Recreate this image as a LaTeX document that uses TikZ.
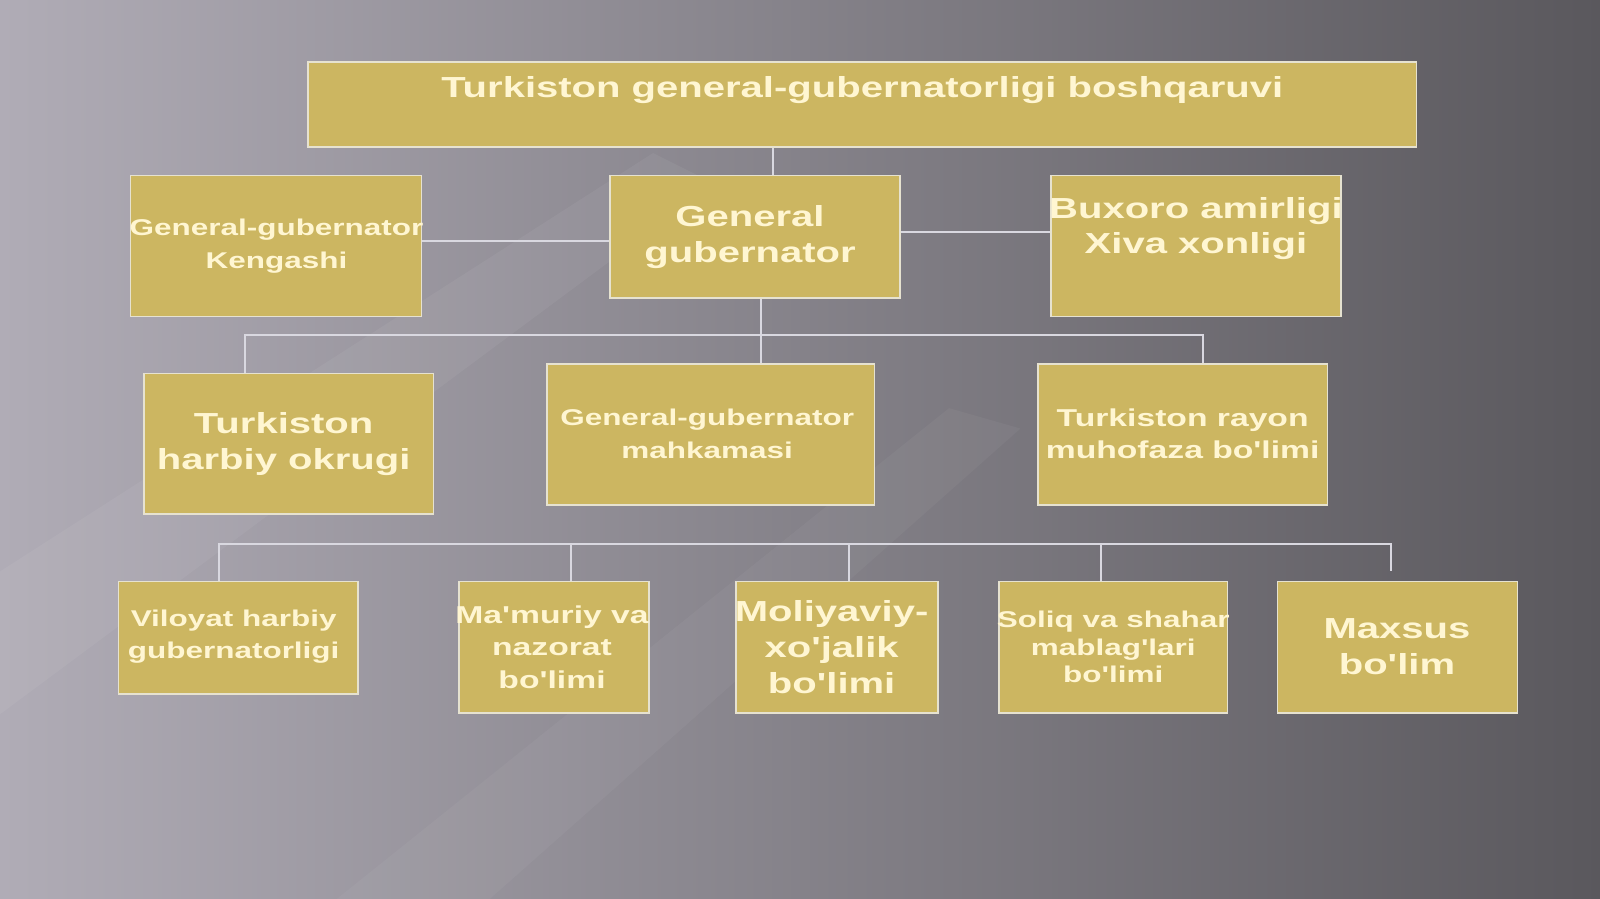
\documentclass[tikz,border=0pt]{standalone}
\usepackage{fontspec}
\setmainfont{Liberation Sans}[FakeStretch=1.38, Ligatures=TeXOff]
\definecolor{gold}{HTML}{CCB661}
\definecolor{cream}{HTML}{FFF6D2}
\definecolor{wire}{HTML}{D9D8E0}
\definecolor{rim}{HTML}{E6E2D0}
\definecolor{bgl}{HTML}{B0ACB6}
\definecolor{bgr}{HTML}{5A585D}

\begin{document}
\begin{tikzpicture}[x=0.5102pt,y=-0.5102pt,
    box/.style 2 args={draw=rim, line width=0.8pt, fill=gold, inner sep=0pt,
                       minimum width=#1*0.5102pt, minimum height=#2*0.5102pt},
    txt/.style={text=cream, align=center, inner sep=0pt},
    big/.style={txt, font=\fontsize{14.5}{17.9}\selectfont\bfseries},
    mid/.style={txt, font=\fontsize{12.2}{16.3}\selectfont\bfseries},
    small/.style={txt, font=\fontsize{11.4}{16.3}\selectfont\bfseries},
    link/.style={draw=wire, line width=1pt}]
    \useasboundingbox (0,0) rectangle (1568,881);
    \shade[left color=bgl, right color=bgr] (0,0) rectangle (1568,881);
    \fill[white, opacity=0.05] (0,560) -- (0,700) -- (700,180) -- (640,150) -- cycle;
    \fill[white, opacity=0.04] (330,881) -- (480,881) -- (1000,420) -- (930,400) -- cycle;

    \node[box={1086}{83}] (top) at (845,102.5) {};
    \node[box={285}{138}] (kengashi) at (270.5,241) {};
    \node[box={284}{120}] (gg) at (740,232) {};
    \node[box={284}{138}] (buxoro) at (1172,241) {};
    \node[box={284}{138}] (okrug) at (283,435) {};
    \node[box={321}{138}] (mahkama) at (696.5,426) {};
    \node[box={284}{138}] (rayon) at (1159,426) {};
    \node[box={235}{110}] (viloyat) at (233.5,625) {};
    \node[box={186}{129}] (mamuriy) at (543,634.5) {};
    \node[box={198}{129}] (moliya) at (820,634.5) {};
    \node[box={224}{129}] (soliq) at (1091,634.5) {};
    \node[box={235}{129}] (maxsus) at (1369.5,634.5) {};

    \node[big] (t-top) at (845,88) {Turkiston general-gubernatorligi boshqaruvi};
    \node[small] (t-kengashi) at (271,241) {General-gubernator\\Kengashi};
    \node[big] (t-gg) at (735,232) {General\\gubernator};
    \node[big] (t-buxoro) at (1172,224) {Buxoro amirligi\\Xiva xonligi};
    \node[big] (t-okrug) at (278,435) {Turkiston\\harbiy okrugi};
    \node[small] (t-mahkama) at (693,425) {General-gubernator\\mahkamasi};
    \node[mid] (t-rayon) at (1159,425) {Turkiston rayon\\muhofaza bo'limi};
    \node[small] (t-viloyat) at (229,624) {Viloyat harbiy\\gubernatorligi};
    \node[mid] (t-mamuriy) at (541,634) {Ma'muriy va\\nazorat\\bo'limi};
    \node[big] (t-moliya) at (815,634) {Moliyaviy-\\xo'jalik\\bo'limi};
    \node[small, font=\fontsize{11.4}{13.8}\selectfont\bfseries] (t-soliq) at (1091,634) {Soliq va shahar\\mablag'lari\\bo'limi};
    \node[big] (t-maxsus) at (1369,634) {Maxsus\\bo'lim};

    \coordinate (xtop) at (758,0);
    \coordinate (yk) at (0,236);
    \coordinate (yb) at (0,227);
    \coordinate (xmid) at (746,0);
    \coordinate (bus1) at (0,328);
    \coordinate (xl) at (240,0);
    \coordinate (xr) at (1179,0);
    \coordinate (bus2) at (0,533);
    \coordinate (xv) at (215,0);
    \coordinate (xm) at (560,0);
    \coordinate (xf) at (832,0);
    \coordinate (xs) at (1079,0);
    \coordinate (xe) at (1363,0);
    \coordinate (stub) at (1363,560);

    \draw[link] (top.south -| xtop) -- (gg.north -| xtop)
                (kengashi.east |- yk) -- (gg.west |- yk)
                (gg.east |- yb) -- (buxoro.west |- yb)
                (gg.south -| xmid) -- (mahkama.north -| xmid)
                (okrug.north -| xl) -- (xl |- bus1) -- (xr |- bus1) -- (rayon.north -| xr)
                (viloyat.north -| xv) -- (xv |- bus2) -- (xe |- bus2) -- (stub)
                (mamuriy.north -| xm) -- (xm |- bus2)
                (moliya.north -| xf) -- (xf |- bus2)
                (soliq.north -| xs) -- (xs |- bus2);
\end{tikzpicture}
\end{document}
